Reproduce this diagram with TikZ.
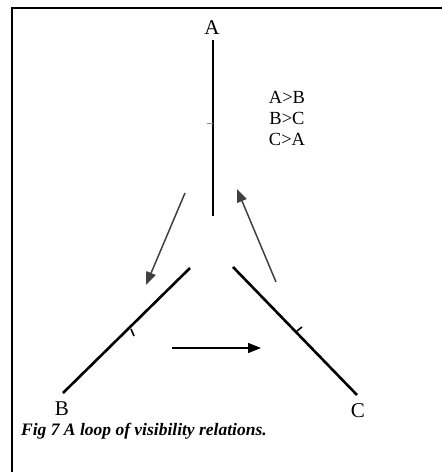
\documentclass[tikz,border=0pt]{standalone}
\usepackage{fontspec}
\setmainfont{Liberation Serif}
\usetikzlibrary{arrows.meta}

\begin{document}
\begin{tikzpicture}[
  x=1pt, y=-1pt,
  >={Triangle[length=13pt,width=10pt]},
  lbl/.style={font=\fontsize{21}{24}\selectfont, inner sep=0pt},
  reltext/.style={font=\fontsize{18.5}{21}\selectfont, inner sep=0pt},
  arm/.style={line width=2.6pt},
  rel/.style={->, line width=1.5pt, black!75},
  tickmark/.style={line width=1.6pt},
]
  \useasboundingbox (0,0) rectangle (442,472);

  % frame (top and left edges only)
  \draw[line width=2.6pt] (442,8) -- (12,8) -- (12,472);

  % end labels
  \node[lbl] (A) at (212,28) {A};
  \node[lbl] (B) at (62,409) {B};
  \node[lbl] (C) at (358,411) {C};

  % the three arms
  \coordinate (atop) at (213,40);
  \coordinate (abot) at (213,216);
  \coordinate (bfar) at (63,393);
  \coordinate (bnear) at (190,268);
  \coordinate (cnear) at (233,267);
  \coordinate (cfar) at (357,395);
  \draw[arm] (atop) -- (abot);
  \draw[arm] (bfar) -- (bnear);
  \draw[arm] (cnear) -- (cfar);

  % small marks on the arms
  \coordinate (ta1) at (213,123);
  \coordinate (ta2) at (207,123);
  \coordinate (tb1) at (131,329);
  \coordinate (tb2) at (134,336);
  \coordinate (tc1) at (297,331);
  \coordinate (tc2) at (302,327);
  \draw[tickmark, black!45, line width=1pt] (ta1) -- (ta2);
  \draw[tickmark] (tb1) -- (tb2);
  \draw[tickmark] (tc1) -- (tc2);

  % relations
  \node[reltext] (relab) at (287,97) {A>B};
  \node[reltext] (relbc) at (287,118) {B>C};
  \node[reltext] (relca) at (287,139) {C>A};

  % visibility arrows round the loop
  \coordinate (ab1) at (185,193);
  \coordinate (ab2) at (146,285);
  \coordinate (ca1) at (276,282);
  \coordinate (ca2) at (237,189);
  \coordinate (bc1) at (172,348);
  \coordinate (bc2) at (261,348);
  \draw[rel] (ab1) -- (ab2);
  \draw[rel] (ca1) -- (ca2);
  \draw[rel, black] (bc1) -- (bc2);

  % caption
  \node[anchor=west, inner sep=0pt,
        font=\fontsize{17.5}{20}\selectfont\bfseries\itshape]
    (cap) at (21,431) {Fig 7 A loop of visibility relations.};
\end{tikzpicture}
\end{document}
